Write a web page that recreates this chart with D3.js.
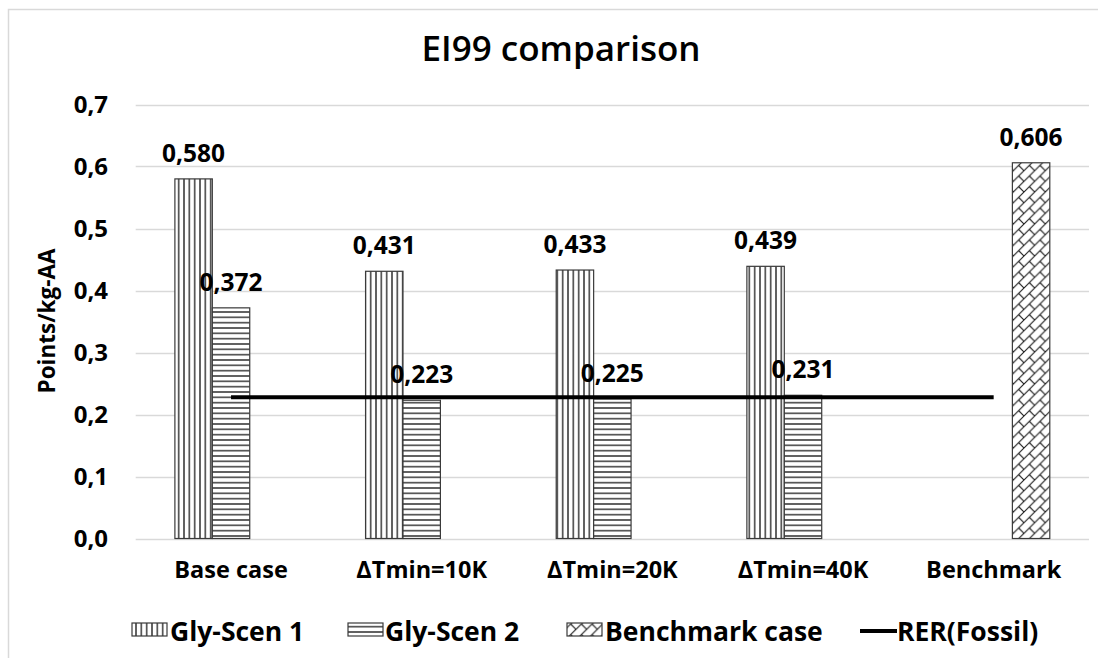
<!DOCTYPE html>
<html>
<head>
<meta charset="utf-8">
<script src="https://cdn.jsdelivr.net/npm/d3@7"></script>
<style>
  html, body { margin: 0; padding: 0; background: #fff; }
  svg { display: block; }
  text { font-family: "Open Sans", "DejaVu Sans", sans-serif; fill: #000; }
</style>
</head>
<body>
<svg id="chart" width="1098" height="658"></svg>
<script>
// Chart data
const categories = ["Base case", "\u0394Tmin=10K", "\u0394Tmin=20K", "\u0394Tmin=40K", "Benchmark"];
const seriesNames = ["Gly-Scen 1", "Gly-Scen 2", "Benchmark case"];
const glyScen1 = [0.580, 0.431, 0.433, 0.439, null];
const glyScen2 = [0.372, 0.223, 0.225, 0.231, null];
const benchmarkCase = [null, null, null, null, 0.606];
const rerFossil = [0.228, 0.228, 0.228, 0.228, 0.228];
const lineName = "RER(Fossil)";
const yTicks = [0, 0.1, 0.2, 0.3, 0.4, 0.5, 0.6, 0.7];

const svg = d3.select("#chart");
const fmt3 = v => d3.format(".3f")(v).replace(".", ",");
const fmt1 = v => d3.format(".1f")(v).replace(".", ",");

// Chart frame
svg.append("rect")
  .attr("x", 8.5).attr("y", 9.5)
  .attr("width", 1200).attr("height", 800)
  .attr("fill", "#fff").attr("stroke", "#d9d9d9").attr("stroke-width", 1.5);

// Hatch patterns
const defs = svg.append("defs");
const s = 16 / 3;
const pV = defs.append("pattern").attr("id", "pat-vert")
  .attr("patternUnits", "userSpaceOnUse").attr("width", s).attr("height", s);
pV.append("rect").attr("width", s).attr("height", s).attr("fill", "#fff");
pV.append("line").attr("x1", s / 2).attr("x2", s / 2).attr("y1", 0).attr("y2", s)
  .attr("stroke", "#1a1a1a").attr("stroke-width", 1.3);

const pH = defs.append("pattern").attr("id", "pat-horiz")
  .attr("patternUnits", "userSpaceOnUse").attr("width", s).attr("height", s);
pH.append("rect").attr("width", s).attr("height", s).attr("fill", "#fff");
pH.append("line").attr("y1", s / 2).attr("y2", s / 2).attr("x1", 0).attr("x2", s)
  .attr("stroke", "#1a1a1a").attr("stroke-width", 1.3);

const b = 32 / 3;
const pB = defs.append("pattern").attr("id", "pat-brick")
  .attr("patternUnits", "userSpaceOnUse").attr("width", b).attr("height", b);
pB.append("rect").attr("width", b).attr("height", b).attr("fill", "#fff");
pB.append("path")
  .attr("d", `M0,${b} L${b},0 M${b / 2},${b / 2} L${b},${b} M-1,1 L1,-1 M${b - 1},${b + 1} L${b + 1},${b - 1}`)
  .attr("stroke", "#1a1a1a").attr("stroke-width", 1.1).attr("fill", "none");

const fills = ["url(#pat-vert)", "url(#pat-horiz)", "url(#pat-brick)"];

// Scales
const x = d3.scaleBand().domain(categories).range([135.7, 1089]).paddingInner(0).paddingOuter(0);
const inner = d3.scaleBand().domain(seriesNames)
  .range([x.bandwidth() * 0.2056, x.bandwidth() * 0.7944]).padding(0);
const y = d3.scaleLinear().domain([0, 0.7]).range([538.5, 104.5]);

// Title
svg.append("text")
  .attr("x", 561).attr("y", 61)
  .attr("text-anchor", "middle")
  .style("font-size", "35px")
  .style("font-weight", 600)
  .text("EI99 comparison");

// Gridlines
svg.append("g").selectAll("line").data(yTicks).join("line")
  .attr("x1", 135.7).attr("x2", 1089)
  .attr("y1", d => Math.round(y(d)) + 0.5).attr("y2", d => Math.round(y(d)) + 0.5)
  .attr("stroke", "#d9d9d9").attr("stroke-width", 1.3);

// Y axis tick labels
const yAxis = d3.axisLeft(y).tickValues(yTicks).tickFormat(fmt1).tickSize(0).tickPadding(0);
const yg = svg.append("g").attr("transform", "translate(108,0)").call(yAxis);
yg.select(".domain").remove();
yg.selectAll("text")
  .style("font-family", "'Open Sans', sans-serif")
  .style("font-size", "24px").style("font-weight", 700).attr("fill", "#000");

// Y axis title
svg.append("text")
  .attr("transform", "translate(55,321) rotate(-90)")
  .attr("text-anchor", "middle")
  .style("font-size", "22.5px").style("font-weight", 700)
  .text("Points/kg-AA");

// X axis category labels
const xAxis = d3.axisBottom(x).tickSize(0).tickPadding(0);
const xg = svg.append("g").attr("transform", "translate(0,561)").call(xAxis);
xg.select(".domain").remove();
xg.selectAll("text")
  .style("font-family", "'Open Sans', sans-serif")
  .style("font-size", "23.5px").style("font-weight", 700).attr("fill", "#000");

// Bars
const seriesData = [glyScen1, glyScen2, benchmarkCase];
const barRows = [];
seriesData.forEach((vals, si) => {
  vals.forEach((v, ci) => {
    if (v !== null) barRows.push({ series: seriesNames[si], si, cat: categories[ci], value: v });
  });
});

svg.append("g").selectAll("rect").data(barRows).join("rect")
  .attr("x", d => x(d.cat) + inner(d.series))
  .attr("y", d => y(d.value))
  .attr("width", inner.bandwidth())
  .attr("height", d => y(0) - y(d.value))
  .attr("fill", d => fills[d.si])
  .attr("stroke", "#3a3a3a").attr("stroke-width", 1.2);

// RER line
const line = d3.line()
  .x((d, i) => x(categories[i]) + x.bandwidth() / 2)
  .y(d => y(d));
svg.append("path").datum(rerFossil)
  .attr("d", line)
  .attr("fill", "none").attr("stroke", "#000").attr("stroke-width", 4);

// Value labels
svg.append("g").selectAll("text").data(barRows).join("text")
  .attr("x", d => x(d.cat) + inner(d.series) + inner.bandwidth() / 2)
  .attr("y", d => y(d.value) - 17)
  .attr("text-anchor", "middle")
  .style("font-size", "24.5px").style("font-weight", 700)
  .text(d => fmt3(d.value));

// Legend
const legend = svg.append("g");
const legendItems = [
  { name: seriesNames[0], fill: fills[0], sx: 132, tx: 170 },
  { name: seriesNames[1], fill: fills[1], sx: 348, tx: 385 },
  { name: seriesNames[2], fill: fills[2], sx: 567, tx: 605 }
];
legendItems.forEach(it => {
  legend.append("rect")
    .attr("x", it.sx).attr("y", 623).attr("width", 35).attr("height", 13)
    .attr("fill", it.fill).attr("stroke", "#3a3a3a").attr("stroke-width", 1.2);
  legend.append("text")
    .attr("x", it.tx).attr("y", 641)
    .style("font-size", "26.5px").style("font-weight", 700)
    .text(it.name);
});
legend.append("line")
  .attr("x1", 860).attr("x2", 897).attr("y1", 631).attr("y2", 631)
  .attr("stroke", "#000").attr("stroke-width", 4);
legend.append("text")
  .attr("x", 897).attr("y", 641)
  .style("font-size", "26.5px").style("font-weight", 700)
  .text(lineName);
</script>
</body>
</html>
